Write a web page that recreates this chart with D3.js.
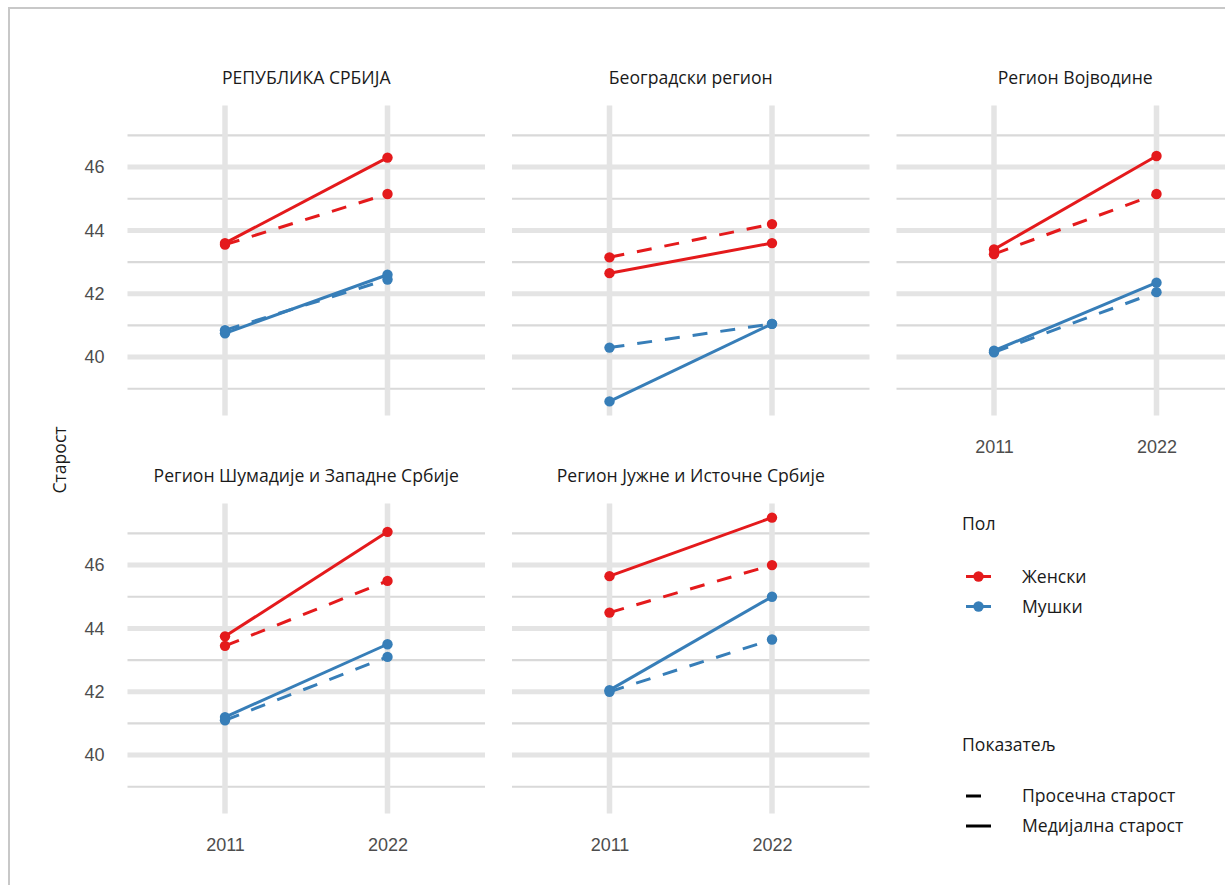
<!DOCTYPE html>
<html><head><meta charset="utf-8">
<script src="https://cdn.jsdelivr.net/npm/d3@7"></script>
<style>body{margin:0;background:#fff}</style>
</head><body><svg id="c" width="1225" height="885"></svg>
<script>
const regions = ["РЕПУБЛИКА СРБИЈА","Београдски регион","Регион Војводине","Регион Шумадије и Западне Србије","Регион Јужне и Источне Србије"];
const years = ["2011","2022"];
const sexes = ["Женски","Мушки"];
const indicators = ["Просечна старост","Медијална старост"];
const femaleMean   = [[43.55,45.15],[43.15,44.2],[43.25,45.15],[43.45,45.5],[44.5,46.0]];
const femaleMedian = [[43.6,46.3],[42.65,43.6],[43.4,46.35],[43.75,47.05],[45.65,47.5]];
const maleMean     = [[40.85,42.45],[40.3,41.05],[40.15,42.05],[41.1,43.1],[42.0,43.65]];
const maleMedian   = [[40.75,42.6],[38.6,41.05],[40.2,42.35],[41.2,43.5],[42.05,45.0]];
const yTicks = [40,42,44,46];
const yMinor = [39,41,43,45,47];

const colors = {"Женски":"#E41A1C","Мушки":"#377EB8"};
const dashes = {"Просечна старост":"15,13","Медијална старост":null};
const textFont = "'Open Sans', 'Noto Sans', sans-serif";
const tickFont = "'Liberation Sans', Arial, sans-serif";
const FS = 17.6;

const svg = d3.select("#c");
svg.append("rect").attr("x",9).attr("y",8).attr("width",1400).attr("height",1000)
  .attr("fill","none").attr("stroke","#c8c8c8").attr("stroke-width",2);

const colX = [127.5, 512, 896.5], PW = 357.5;
const rowY = [105.5, 503.5], PH = 310;
const allVals = [femaleMean, femaleMedian, maleMean, maleMedian].flat(2);
const [vmin, vmax] = d3.extent(allVals);
const pad = (vmax - vmin) * 0.05;
const y = d3.scaleLinear().domain([vmin - pad, vmax + pad]).range([PH, 0]);
const x = d3.scalePoint().domain(years).range([0, PW]).padding(0.6);

const series = [
  {sex:"Женски", ind:"Медијална старост", vals: femaleMedian},
  {sex:"Женски", ind:"Просечна старост", vals: femaleMean},
  {sex:"Мушки", ind:"Медијална старост", vals: maleMedian},
  {sex:"Мушки", ind:"Просечна старост", vals: maleMean}
];
const line = d3.line().x(d => x(d.year)).y(d => y(d.v));

regions.forEach((r, i) => {
  const col = i % 3, row = Math.floor(i / 3);
  const g = svg.append("g").attr("transform", `translate(${colX[col]},${rowY[row]})`);
  g.selectAll(".minor").data(yMinor).join("line")
    .attr("x1", 0).attr("x2", PW).attr("y1", d => y(d)).attr("y2", d => y(d))
    .attr("stroke", "#d9d9d9").attr("stroke-width", 2.2);
  g.selectAll(".major").data(yTicks).join("line")
    .attr("x1", 0).attr("x2", PW).attr("y1", d => y(d)).attr("y2", d => y(d))
    .attr("stroke", "#e4e4e4").attr("stroke-width", 5);
  g.selectAll(".vgrid").data(years).join("line")
    .attr("x1", d => x(d)).attr("x2", d => x(d)).attr("y1", 0).attr("y2", PH)
    .attr("stroke", "#e4e4e4").attr("stroke-width", 5.5);
  svg.append("text").attr("x", colX[col] + PW/2).attr("y", rowY[row] - 21.5)
    .attr("text-anchor", "middle").attr("font-family", textFont).attr("font-size", FS)
    .attr("fill", "#1a1a1a").text(r);
  series.forEach(s => {
    const pts = years.map((yr, k) => ({year: yr, v: s.vals[i][k]}));
    g.append("path").attr("d", line(pts)).attr("fill", "none")
      .attr("stroke", colors[s.sex]).attr("stroke-width", 3)
      .attr("stroke-dasharray", dashes[s.ind]);
    g.selectAll(null).data(pts).join("circle")
      .attr("cx", d => x(d.year)).attr("cy", d => y(d.v)).attr("r", 5.2)
      .attr("fill", colors[s.sex]);
  });
  if (col === 0) {
    const ax = g.append("g").call(d3.axisLeft(y).tickValues(yTicks).tickSize(0).tickPadding(23));
    ax.select(".domain").remove();
    ax.selectAll("text").attr("font-family", tickFont).attr("font-size", 18).attr("fill", "#4d4d4d");
  }
  if (row === 1 || col === 2) {
    const ax = g.append("g").attr("transform", `translate(0,${PH})`)
      .call(d3.axisBottom(x).tickSize(0).tickPadding(25));
    ax.select(".domain").remove();
    ax.selectAll("text").attr("font-family", tickFont).attr("font-size", 18).attr("fill", "#4d4d4d");
  }
});

svg.append("text").attr("transform", "translate(66,460) rotate(-90)")
  .attr("text-anchor", "middle").attr("font-family", textFont).attr("font-size", FS)
  .attr("fill", "#1a1a1a").text("Старост");

const lg = svg.append("g");
lg.append("text").attr("x", 962).attr("y", 530).attr("font-family", textFont).attr("font-size", FS)
  .attr("fill", "#1a1a1a").text("Пол");
sexes.forEach((s, k) => {
  const cy = 576.5 + k * 30;
  lg.append("line").attr("x1", 966).attr("x2", 991).attr("y1", cy).attr("y2", cy)
    .attr("stroke", colors[s]).attr("stroke-width", 3);
  lg.append("circle").attr("cx", 978.5).attr("cy", cy).attr("r", 5.2).attr("fill", colors[s]);
  lg.append("text").attr("x", 1022).attr("y", cy + 6).attr("font-family", textFont).attr("font-size", FS)
    .attr("fill", "#1a1a1a").text(s);
});
lg.append("text").attr("x", 962).attr("y", 751).attr("font-family", textFont).attr("font-size", FS)
  .attr("fill", "#1a1a1a").text("Показатељ");
indicators.forEach((s, k) => {
  const cy = 796 + k * 30;
  lg.append("line").attr("x1", 966).attr("x2", 991).attr("y1", cy).attr("y2", cy)
    .attr("stroke", "#000").attr("stroke-width", 3).attr("stroke-dasharray", dashes[s]);
  lg.append("text").attr("x", 1022).attr("y", cy + 6).attr("font-family", textFont).attr("font-size", FS)
    .attr("fill", "#1a1a1a").text(s);
});
</script></body></html>
